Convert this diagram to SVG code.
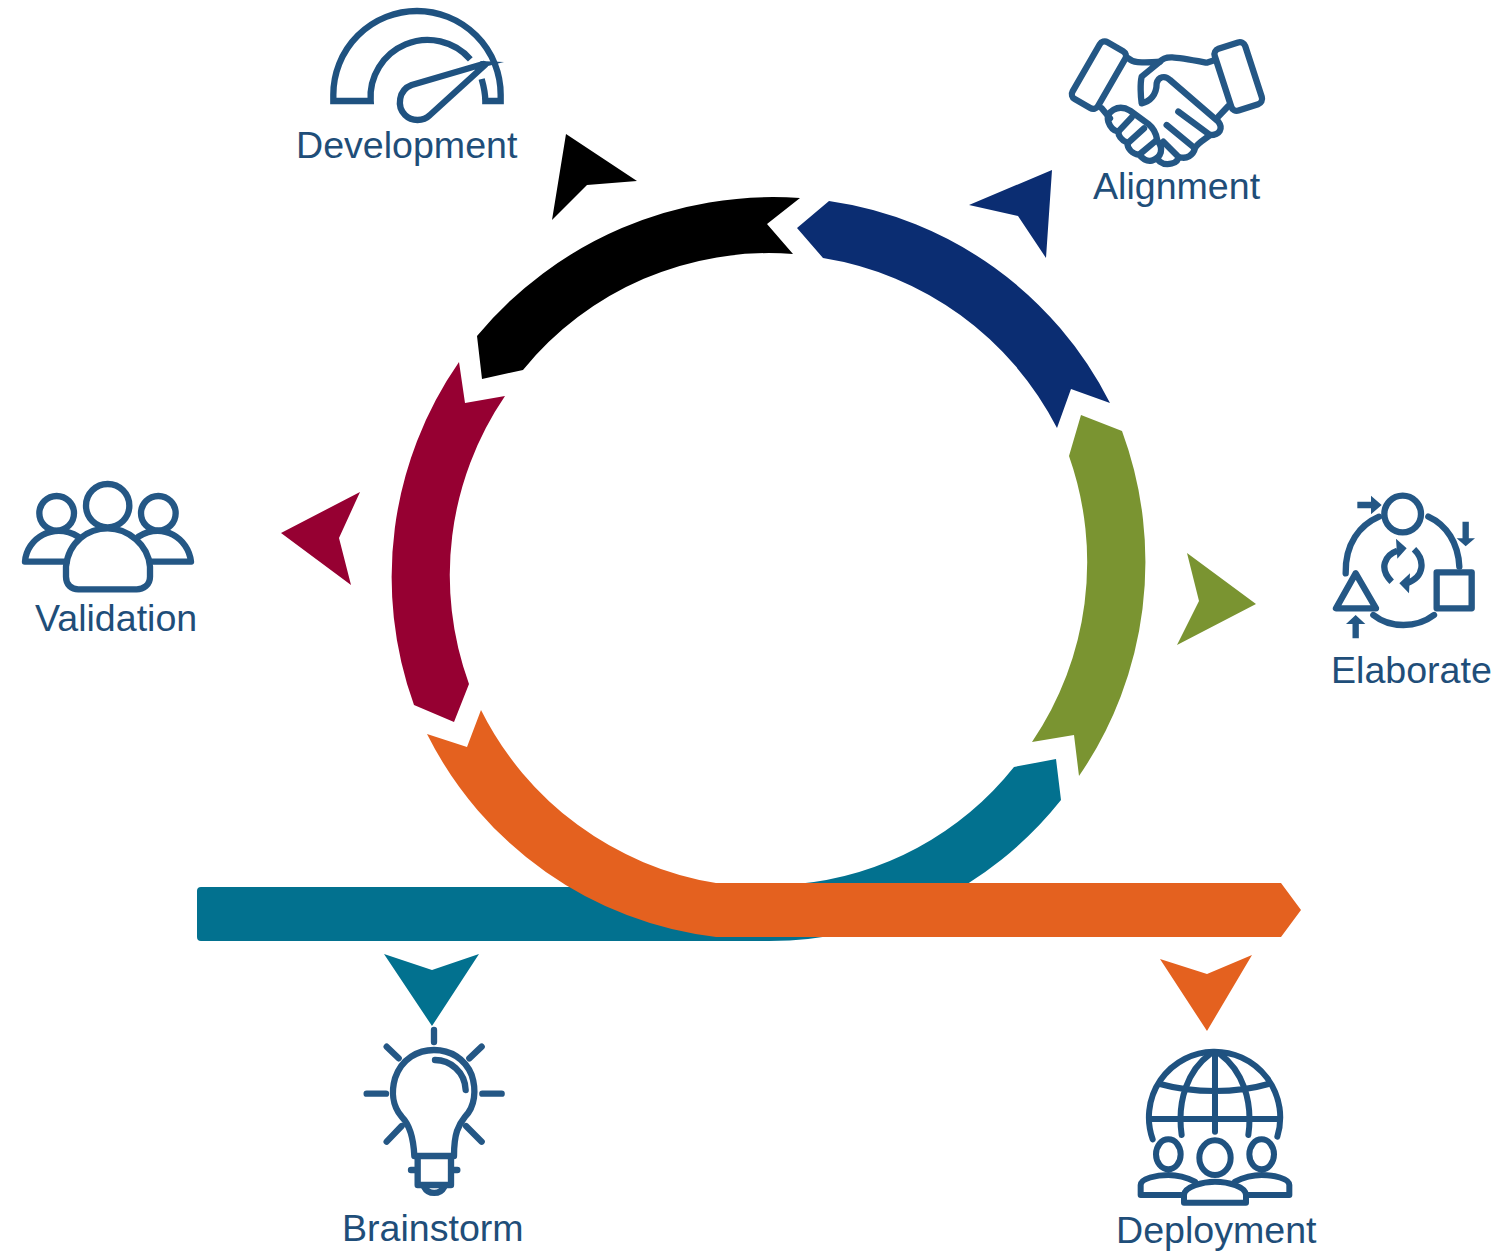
<svg xmlns="http://www.w3.org/2000/svg" width="1500" height="1252" viewBox="0 0 1500 1252">
<style>
.lbl{font-family:"Liberation Sans",Arial,sans-serif;font-size:37.6px;fill:#1F4E79}
.ic{fill:none;stroke:#245785;stroke-width:19;stroke-linecap:round;stroke-linejoin:round}
.icf{fill:#245785;stroke:none}
</style>
<rect width="1500" height="1252" fill="#fff"/>
<g id="connectors">
<path fill="#000000" d="M477,336 A385,385 0 0 1 800,198 L767,224 L793,254 A317,317 0 0 0 523,370 L482,379 Z"/>
<path fill="#0B2D72" d="M797,228 L829,201 A374,374 0 0 1 1110,403 L1071,389 L1057,428 A320,320 0 0 0 823,258 Z"/>
<path fill="#7A9431" d="M1081,415 L1122,431 A378,378 0 0 1 1079,776 L1074,735 L1032,742 A320,320 0 0 0 1069,456 Z"/>
<path fill="#02718F" d="M1014,767 L1056,759 L1061,800 A373,373 0 0 1 768,941 H201 Q197,941 197,937 V891 Q197,887 201,887 H768 L797,884 A313,313 0 0 0 1014,767 Z"/>
<path fill="#E4611F" d="M481,710 A320,320 0 0 0 716,883 H1281 L1301,910 L1281,937 H716 A372,372 0 0 1 427,734 L467,747 Z"/>
<path fill="#960032" d="M459,362 L465,403 L505,396 A318,318 0 0 0 469,684 L454,722 L414,705 A377,377 0 0 1 459,362 Z"/>
<polygon fill="#000000" points="566,134 637,181 587,185 552,220"/>
<polygon fill="#0B2D72" points="969,205 1052,170 1046,258 1018,216"/>
<polygon fill="#7A9431" points="1187,553 1256,604 1177,645 1199,601"/>
<polygon fill="#960032" points="360,492 281,533 351,585 339,538"/>
<polygon fill="#02718F" points="384,954 432,970 479,954 432,1026"/>
<polygon fill="#E4611F" points="1160,959 1207,974 1252,955 1207,1031"/>
</g>
<g id="development">
<g transform="translate(300,0) scale(.33333)">
<path class="ic" style="stroke:#1F5280;stroke-linecap:butt;stroke-linejoin:miter" d="M511,178 A171,171 0 0 0 212,303 H100 V284 A251,251 0 0 1 602,284 V303 H556 C556,285 552,262 545,237"/>
<path class="ic" style="stroke:#1F5280" d="M550,192 L335,255 C295,270 290,320 315,345 C335,365 370,365 390,345 L555,195"/>
<polygon class="icf" style="fill:#1F5280" points="540,183 612,186 555,200"/>
</g>
<text class="lbl" x="296" y="158">Development</text>
</g>
<g id="alignment">
<g class="ic" transform="translate(1050,20) scale(.33333)">
<rect x="103" y="67" width="88" height="197" rx="17" transform="rotate(30 147 165)"/>
<rect x="517" y="72" width="96" height="195" rx="17" transform="rotate(-18 565 170)"/>
<path d="M235,115 C250,130 270,128 330,125 L275,170 C270,190 272,230 275,250 C300,245 320,225 320,190 C325,170 345,165 360,180 L505,305 C520,325 510,345 480,345 L385,275"/>
<path d="M330,125 C345,105 370,110 470,128 L495,120"/>
<path d="M505,290 L535,258 M155,265 L180,295 M480,345 C470,355 440,370 435,385 L350,315 M435,385 C430,405 410,420 385,410 L340,365 M385,410 C385,430 350,440 330,425 L320,415"/>
<path d="M175,305 C165,275 205,250 240,272 L295,312 C318,330 320,350 322,362 C342,385 335,412 305,422 C288,425 278,415 268,405 C245,400 232,385 232,368 C212,360 205,345 205,335 C190,332 180,320 175,305 Z"/>
<path d="M245,292 L205,335 M282,325 L235,368 M318,362 L270,402"/>
</g>
<text class="lbl" x="1093" y="199">Alignment</text>
</g>
<g id="elaborate">
<g class="ic" transform="translate(1310,480) scale(.33333)">
<circle cx="278" cy="102" r="55"/>
<path d="M207,110 C150,135 105,190 107,280 M355,110 C410,135 445,190 448,260 M190,405 C240,445 320,445 372,405"/>
<rect x="380" y="277" width="105" height="108"/>
<path d="M137,280 L78,385 H198 Z"/>
<path style="stroke-linecap:butt" d="M142,75 H190 M467,125 V180 M137,475 V425 M262,212 C225,225 205,265 245,305 M312,208 C345,240 345,290 290,310"/>
<path class="icf" d="M183,47 L215,75 L183,103 Z M440,175 L467,199 L495,175 Z M108,432 L137,405 L166,432 Z M258,176 L290,205 L262,236 Z M300,280 L268,310 L297,340 Z"/>
</g>
<text class="lbl" x="1331" y="683">Elaborate</text>
</g>
<g id="validation">
<g class="ic" transform="translate(10,470) scale(.33333)">
<circle cx="293" cy="107" r="65"/>
<circle cx="140" cy="130" r="52"/>
<circle cx="445" cy="130" r="52"/>
<path d="M168,290 C175,215 235,175 293,175 C355,175 415,225 420,290 V320 C420,345 400,358 380,358 H205 C185,358 168,345 168,320 Z"/>
<path d="M205,200 C130,155 50,205 45,275 H170 M385,200 C460,155 535,205 543,275 H420"/>
</g>
<text class="lbl" x="35" y="631">Validation</text>
</g>
<g id="brainstorm">
<g class="ic" transform="translate(350,1030) scale(.33333)">
<path d="M252,0 V36 M110,50 L146,85 M395,50 L358,85 M50,191 H108 M397,191 H455 M110,335 L155,288 M395,335 L348,288"/>
<path d="M193,378 C190,310 175,280 155,260 C125,225 125,180 135,145 C155,85 205,60 252,60 C300,60 345,85 365,135 C380,180 375,230 345,260 C325,285 312,310 312,378 Z"/>
<path d="M203,382 V465 H303 V382 M183,420 H203 M303,420 H322 M255,90 C300,90 345,125 347,180 M222,470 C235,495 270,495 283,470"/>
</g>
<text class="lbl" x="342" y="1241">Brainstorm</text>
</g>
<g id="deployment">
<g class="ic" transform="translate(1120,1040) scale(.33333)" style="stroke:#1F5280;stroke-width:18">
<path d="M98,298 A197,197 0 1 1 472,290"/>
<path d="M90,237 H480 M285,40 V275 M120,132 C220,160 350,160 445,132 M270,42 C205,90 170,180 185,285 M300,42 C365,90 400,180 385,285"/>
<ellipse cx="145" cy="343" rx="37" ry="45"/>
<ellipse cx="285" cy="353" rx="47" ry="52"/>
<ellipse cx="425" cy="343" rx="37" ry="45"/>
<path d="M192,488 V465 C192,440 250,425 285,425 C325,425 378,440 378,465 V488 Z"/>
<path d="M192,465 H62 V435 C62,415 110,405 145,405 C175,405 205,415 225,425 M378,465 H508 V435 C508,415 460,405 425,405 C395,405 365,415 345,425"/>
</g>
<text class="lbl" x="1116" y="1243">Deployment</text>
</g>
</svg>
